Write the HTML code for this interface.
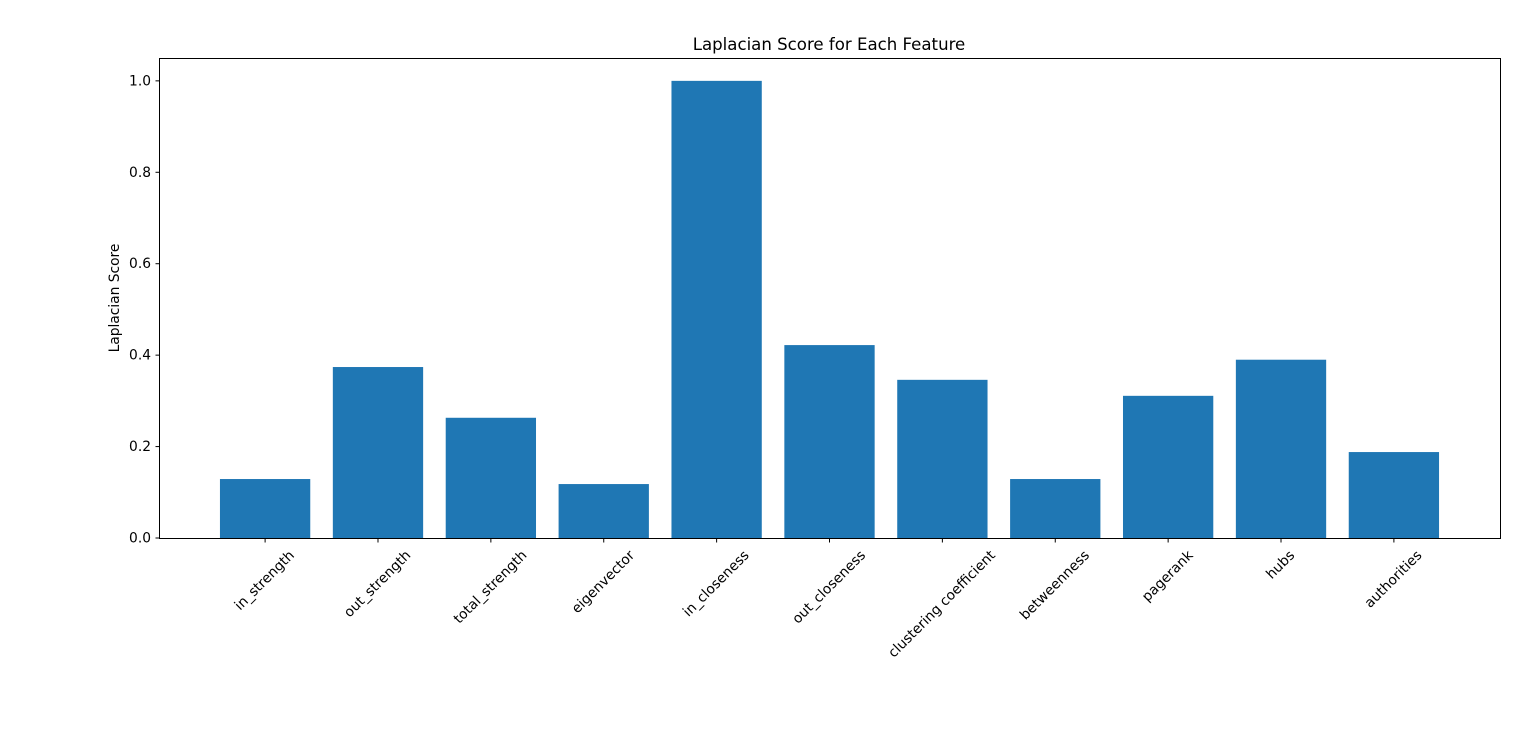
<!DOCTYPE html>
<html><head><meta charset="utf-8"><style>
body{margin:0;background:#fff;}
svg{display:block;font-family:"DejaVu Sans","Liberation Sans",sans-serif;}
</style></head><body>
<svg id="chart" width="1536" height="754">
<rect width="1536" height="754" fill="#fff"/>
<text x="829" y="50" font-size="16.6" text-anchor="middle">Laplacian Score for Each Feature</text>
<text transform="translate(119,298) rotate(-90)" font-size="13.8" text-anchor="middle">Laplacian Score</text>
<g id="bars"></g><g id="yt"></g><g id="xt"></g>
<rect x="159.5" y="58.5" width="1341" height="480" fill="none" stroke="#000" stroke-width="1"/>
</svg>
<script>
const categories=["in_strength","out_strength","total_strength","eigenvector","in_closeness","out_closeness","clustering coefficient","betweenness","pagerank","hubs","authorities"];
const scores=[0.129,0.374,0.263,0.118,1.0,0.422,0.346,0.129,0.311,0.39,0.188];
const yTicks=[0,0.2,0.4,0.6,0.8,1.0];
const yTickLabels=["0.0","0.2","0.4","0.6","0.8","1.0"];
const NS="http://www.w3.org/2000/svg";
const L=159,R=1500,T=58,B=538;
const xmin=-0.94,xmax=categories.length-1+0.94,ymax=1.05;
const xs=v=>L+(v-xmin)/(xmax-xmin)*(R-L);
const ys=v=>B-v/ymax*(B-T);
function mk(t,a,p){const e=document.createElementNS(NS,t);for(const k in a)e.setAttribute(k,a[k]);p.appendChild(e);return e;}
const bars=document.getElementById('bars'),yt=document.getElementById('yt'),xt=document.getElementById('xt');
scores.forEach((v,i)=>{
 const r=mk('rect',{x:xs(i-0.4),y:ys(v),width:xs(i+0.4)-xs(i-0.4),height:B-ys(v),fill:'#1f77b4'},bars);
 
 
});
yTicks.forEach((v,i)=>{
 const y=ys(v);
 const l=mk('line',{x1:L+0.5-4,x2:L+0.5,y1:y,y2:y,stroke:'#000'},yt);
 
 
 const t=mk('text',{x:L-8,y:y+4.5,'font-size':13.8,'text-anchor':'end'},yt);
 t.textContent=yTickLabels[i];
 
 
});
categories.forEach((c,i)=>{
 const x=xs(i);
 const l=mk('line',{x1:x,x2:x,y1:B+0.5,y2:B+4.5,stroke:'#000'},xt);
 
 
 const t=mk('text',{'font-size':13.8,'text-anchor':'end'},xt);
 t.textContent=c;
 
 
 const len=t.getComputedTextLength();
 const ex=x+len*0.3536+2.5, ey=B+18;
 t.setAttribute('transform','translate('+ex+','+ey+') rotate(-45)');
});
</script>
</body></html>
